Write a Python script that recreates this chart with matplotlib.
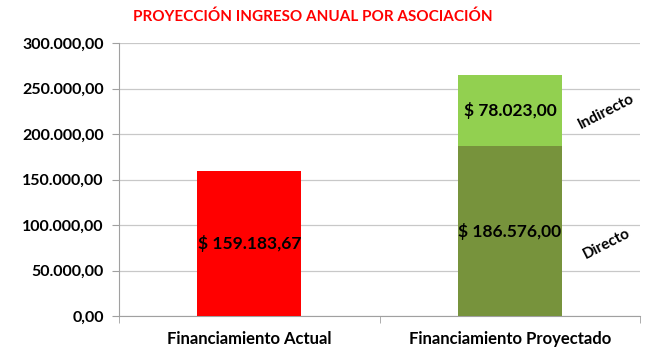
import matplotlib.pyplot as plt
from matplotlib.ticker import FuncFormatter, FixedLocator

categories = ["Financiamiento Actual", "Financiamiento Proyectado"]
directo = [159183.67, 186576.00]
indirecto = [0, 78023.00]
series_names = ["Directo", "Indirecto"]


def es_fmt(v, dec=2):
    s = f"{v:,.{dec}f}"
    return s.replace(",", "X").replace(".", ",").replace("X", ".")


plt.rcParams['font.family'] = ['Lato', 'DejaVu Sans']
plt.rcParams['font.weight'] = 'bold'

fig = plt.figure(figsize=(6.5, 3.56), dpi=100)
ax = fig.add_axes([0.183, 0.112, 0.802, 0.767])

x = list(range(len(categories)))
colors_dir = ["#FF0000", "#77933C"]
ax.bar(x, directo, width=0.4, color=colors_dir, zorder=3)
ax.bar(x, indirecto, width=0.4, bottom=directo, color="#92D050", zorder=3)

ax.set_xlim(-0.5, 1.5)
ax.set_ylim(0, 300000)
ax.set_yticks(range(0, 300001, 50000))
ax.yaxis.set_major_formatter(FuncFormatter(lambda v, p: es_fmt(v)))
ax.grid(axis='y', color='#C8C8C8', linewidth=0.9, zorder=0)

ax.set_xticks(x)
ax.set_xticklabels(categories, fontsize=12, fontweight='bold')
ax.xaxis.set_minor_locator(FixedLocator([-0.5, 0.5, 1.5]))
ax.tick_params(axis='x', which='major', length=0, pad=11)
ax.tick_params(axis='x', which='minor', length=5, color='#A0A0A0')
ax.tick_params(axis='y', length=5, color='#A0A0A0', labelsize=11.5, pad=6)
for lbl in ax.get_yticklabels():
    lbl.set_fontweight('bold')

for s in ['top', 'right']:
    ax.spines[s].set_visible(False)
for s in ['left', 'bottom']:
    ax.spines[s].set_color('#A0A0A0')

# data labels
for i in x:
    ax.text(i, directo[i] / 2, "$ " + es_fmt(directo[i]), ha='center', va='center',
            fontsize=12.5, fontweight='bold', zorder=4)
    if indirecto[i] > 0:
        ax.text(i, directo[i] + indirecto[i] / 2, "$ " + es_fmt(indirecto[i]),
                ha='center', va='center', fontsize=12.5, fontweight='bold', zorder=4)

# series name labels
ax.text(1.37, directo[1] / 2 - 14000, series_names[0], rotation=27, ha='center', va='center',
        fontsize=11, fontweight='bold')
ax.text(1.37, directo[1] + indirecto[1] / 2 - 1000, series_names[1], rotation=27, ha='center',
        va='center', fontsize=11, fontweight='bold')

fig.text(0.482, 0.952, "PROYECCIÓN INGRESO ANUAL POR ASOCIACIÓN", color='#FF0000',
         ha='center', va='center', fontsize=11, fontweight='bold')

fig.savefig("out.png", dpi=100)
